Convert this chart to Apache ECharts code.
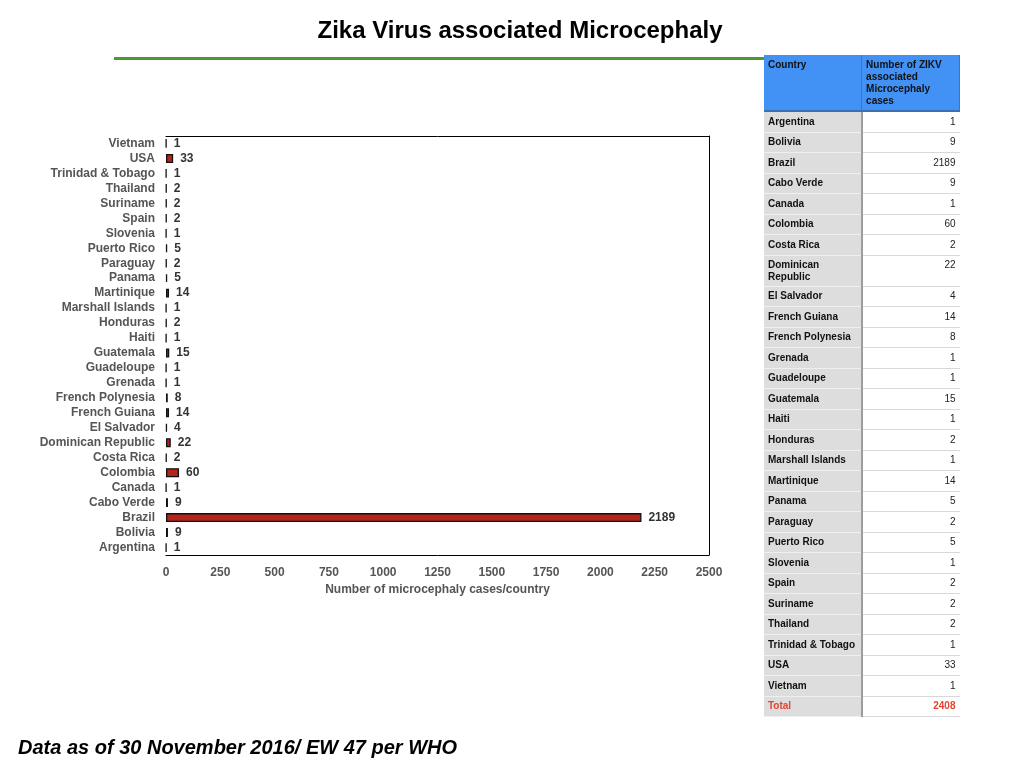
<!DOCTYPE html>
<html>
<head>
<meta charset="utf-8">
<title>Zika Virus associated Microcephaly</title>
<script src="https://cdn.jsdelivr.net/npm/echarts@6/dist/echarts.min.js"></script>
<style>
	html, body { margin:0; padding:0; background:#fff; }
	#main { position:absolute; left:0; top:0; width:1024px; height:768px; }
	#tbl { position:absolute; left:764px; top:55px; width:196px; border-collapse:collapse;
		font-family:"Liberation Sans", Arial, Helvetica, sans-serif; font-size:10px; font-weight:bold; }
	#tbl td { height:19.5px; padding:0 4px; vertical-align:middle; line-height:12px; }
	#tbl td.c { width:90px; background:#dddddd; border-right:2px solid #9c9c9c; border-bottom:1px solid #efefef; color:#111; }
	#tbl td.v { width:90px; background:#fff; text-align:right; font-weight:normal; color:#222; border-bottom:1px solid #d8d8d8; }
	#tbl tr.head td { background:#4291f5; height:56px; vertical-align:top; padding-top:4px; box-sizing:border-box; color:#111; font-weight:bold; text-align:left; border-right:1px solid #3576c8; border-bottom:2px solid #3a6fb0; }
	#tbl tr.tall td { height:31px; vertical-align:top; padding-top:3px; box-sizing:border-box; }
	#tbl tr.total td { color:#e8432e; font-weight:bold; }
</style>
</head>
<body>
	<div id="main"></div>
	<table id="tbl"></table>
	<script>
		// 数据
		var countries = ['Argentina', 'Bolivia', 'Brazil', 'Cabo Verde', 'Canada', 'Colombia', 'Costa Rica',
			'Dominican Republic', 'El Salvador', 'French Guiana', 'French Polynesia', 'Grenada', 'Guadeloupe',
			'Guatemala', 'Haiti', 'Honduras', 'Marshall Islands', 'Martinique', 'Panama', 'Paraguay',
			'Puerto Rico', 'Slovenia', 'Spain', 'Suriname', 'Thailand', 'Trinidad & Tobago', 'USA', 'Vietnam'];
		var cases = [1, 9, 2189, 9, 1, 60, 2, 22, 4, 14, 8, 1, 1, 15, 1, 2, 1, 14, 5, 2, 5, 1, 2, 2, 2, 1, 33, 1];
		var totalCases = 2408;
		var xTicks = [0, 250, 500, 750, 1000, 1250, 1500, 1750, 2000, 2250, 2500];

		var titleText = 'Zika Virus associated Microcephaly';
		var noteText = 'Data as of 30 November 2016/ EW 47 per WHO';
		var axisName = 'Number of microcephaly cases/country';
		var headCountry = 'Country';
		var headCases = 'Number of ZIKV associated Microcephaly cases';

		var font = '"Liberation Sans", Arial, Helvetica, sans-serif';

		// 表格
		function buildTable(){
			var html = '<tr class="head"><td class="c" style="background:#4291f5">' + headCountry + '</td><td class="v" style="background:#4291f5;text-align:left;font-weight:bold">' + headCases + '</td></tr>';
			for (var i = 0; i < countries.length; i++) {
				var cls = countries[i].length > 17 ? ' class="tall"' : '';
				html += '<tr' + cls + '><td class="c">' + countries[i].replace('&', '&amp;') + '</td><td class="v">' + cases[i] + '</td></tr>';
			}
			html += '<tr class="total"><td class="c">Total</td><td class="v">' + totalCases + '</td></tr>';
			document.getElementById('tbl').innerHTML = html;
		}
		buildTable();

		// 图表
		var myChart = echarts.init(document.getElementById('main'));
		var lineOnly = {
			type: 'value',
			min: xTicks[0],
			max: xTicks[xTicks.length - 1],
			interval: xTicks[1] - xTicks[0],
			splitLine: { show: false },
			axisTick: { show: false },
			axisLine: { show: true, lineStyle: { color: '#000', width: 1 } }
		};
		var option = {
			animation: false,
			textStyle: { fontFamily: font },
			grid: { left: 166, right: 315, top: 136, bottom: 213 },
			xAxis: [{
				type: 'value',
				position: 'bottom',
				min: xTicks[0],
				max: xTicks[xTicks.length - 1],
				interval: xTicks[1] - xTicks[0],
				splitLine: { show: false },
				axisLine: { show: true, lineStyle: { color: '#000', width: 1 } },
				axisTick: { show: false },
				axisLabel: { color: '#555', fontWeight: 'bold', fontSize: 12, margin: 12, fontFamily: font,
					formatter: function(v){ return String(v); } },
				name: axisName,
				nameLocation: 'middle',
				nameGap: 28,
				nameTextStyle: { color: '#555', fontWeight: 'bold', fontSize: 12, fontFamily: font }
			}, Object.assign({ position: 'top', axisLabel: { show: false } }, lineOnly)],
			yAxis: [{
				type: 'category',
				data: countries,
				axisTick: { show: false },
				axisLine: { show: false },
				axisLabel: { color: '#555', fontWeight: 'bold', fontSize: 12, margin: 11, fontFamily: font, interval: 0 }
			}, {
				type: 'category',
				data: countries,
				position: 'right',
				axisTick: { show: false },
				axisLabel: { show: false },
				axisLine: { show: true, onZero: false, lineStyle: { color: '#000', width: 1 } }
			}],
			series: [{
				type: 'bar',
				data: cases,
				barWidth: '60%',
				itemStyle: { color: '#b3241b', borderColor: '#111', borderWidth: 1.3 },
				label: {
					show: true, position: 'right', distance: 7,
					color: '#333', fontWeight: 'bold', fontSize: 12, fontFamily: font
				}
			}],
			graphic: [
				{
					type: 'text', x: 520, y: 31,
					style: { text: titleText, fill: '#000', font: 'bold 24px ' + font, textAlign: 'center', textVerticalAlign: 'middle' }
				},
				{
					type: 'rect', shape: { x: 114, y: 57, width: 650, height: 3 },
					style: { fill: '#4a9a2f' }
				},
				{
					type: 'text', x: 18, y: 748,
					style: { text: noteText, fill: '#000', font: 'italic bold 20px ' + font, textAlign: 'left', textVerticalAlign: 'middle' }
				}
			]
		};
		myChart.setOption(option);
	</script>
</body>
</html>
